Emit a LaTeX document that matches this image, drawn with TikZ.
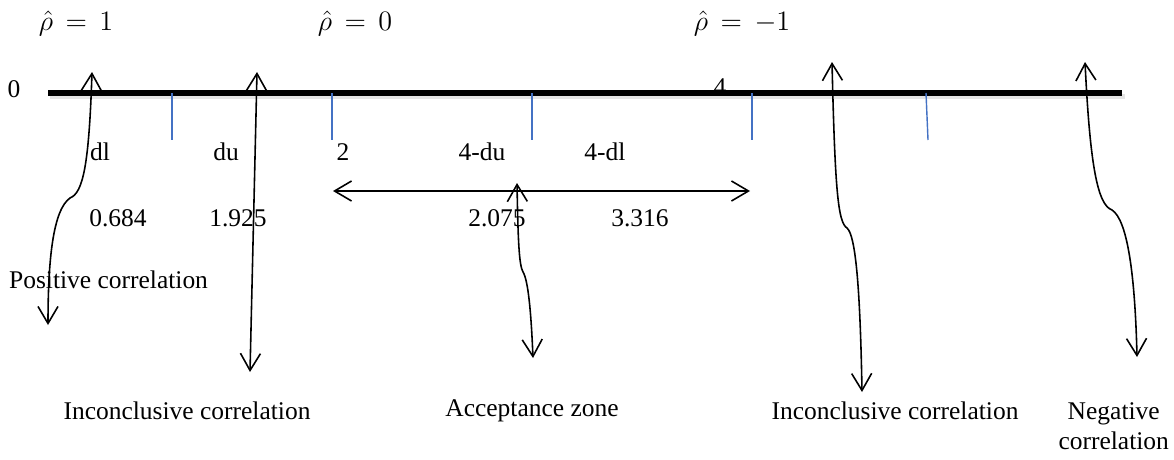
\RequirePackage{fix-cm}
\documentclass[tikz,border=0pt]{standalone}
\usepackage{fontspec}
\setmainfont{Liberation Serif}
\usepackage{tikz}
\usetikzlibrary{positioning, arrows.meta}
\definecolor{tickBlue}{RGB}{68, 114, 196}

\begin{document}
\begin{tikzpicture}[
    lbl/.style={inner sep=1pt, font=\fontsize{14.5}{17}\selectfont},
    rho/.style={inner sep=1pt, font=\fontsize{16}{19}\selectfont},
    tickline/.style={tickBlue, line width=0.8pt},
    arrow/.style={{Straight Barb[length=3.4mm, width=4mm]}-{Straight Barb[length=3.4mm, width=4mm]}, line width=0.9pt},
  ]
    \useasboundingbox (0,0) rectangle (23.48,-9.18);

    % number line
    \node[lbl] (four) at (14.40,-1.74) {4};
    \coordinate (axL) at (0.96,-1.86);
    \coordinate (axR) at (22.44,-1.86);
    \draw[black!10, line width=3pt] ([xshift=1pt, yshift=-2pt]axL) -- ([xshift=1.5pt, yshift=-2pt]axR);
    \draw[line width=3.4pt] (axL) -- (axR);
    \node[lbl] (zero) at (0.28,-1.78) {0};

    \foreach \x/\n in {3.44/t1, 6.64/t2, 10.64/t3, 15.04/t4, 18.52/t5} {
      \coordinate (\n a) at (\x,-1.86);
      \coordinate (\n b) at (\x,-2.80);
    }
    \coordinate (t5b) at (18.56,-2.80);
    \foreach \n in {t1, t2, t3, t4, t5}
      \draw[tickline] (\n a) -- (\n b);

    \node[rho] (rhoA) at (1.52,-0.46) {$\hat{\rho}\,=\,1$};
    \node[rho] (rhoB) at (7.10,-0.46) {$\hat{\rho}\,=\,0$};
    \node[rho] (rhoC) at (14.84,-0.46) {$\hat{\rho}\,=\,-1$};

    \node[lbl] (dl) at (2.00,-3.04) {dl};
    \node[lbl] (du) at (4.52,-3.04) {du};
    \node[lbl] (two) at (6.86,-3.04) {2};
    \node[lbl] (fourdu) at (9.64,-3.04) {4-du};
    \node[lbl] (fourdl) at (12.10,-3.04) {4-dl};

    \node[lbl] (vdl) at (2.36,-4.36) {0.684};
    \node[lbl] (vdu) at (4.76,-4.36) {1.925};
    \node[lbl] (vfourdu) at (9.94,-4.36) {2.075};
    \node[lbl] (vfourdl) at (12.80,-4.36) {3.316};

    \node[lbl, anchor=west] (pos) at (0.14,-5.60) {Positive correlation};

    \node[lbl] (incL) at (3.74,-8.22) {Inconclusive correlation};
    \node[lbl] (acc) at (10.64,-8.22) {Acceptance zone};
    \node[lbl] (incR) at (17.90,-8.22) {Inconclusive correlation};
    \node[lbl, align=center, anchor=east] (neg) at (23.42,-8.52) {Negative\\correlation};

    % acceptance range
    \coordinate (accL) at (6.66,-3.82);
    \coordinate (accR) at (15.00,-3.82);
    \draw[arrow] (accL) -- (accR);

    % curly pointers
    \coordinate (p1t) at (1.84,-1.44);
    \coordinate (p1k) at (1.40,-3.96);
    \coordinate (p1b) at (0.96,-6.50);
    \coordinate (p2t) at (5.14,-1.44);
    \coordinate (p2b) at (5.00,-7.44);
    \coordinate (p3t) at (10.34,-3.66);
    \coordinate (p3k) at (10.46,-5.44);
    \coordinate (p3b) at (10.66,-7.16);
    \coordinate (p4t) at (16.64,-1.24);
    \coordinate (p4k) at (16.94,-4.56);
    \coordinate (p4b) at (17.24,-7.84);
    \coordinate (p5t) at (21.70,-1.24);
    \coordinate (p5k) at (22.24,-4.20);
    \coordinate (p5b) at (22.74,-7.14);

    \draw[arrow] (p1t) .. controls (1.78,-3.3) and (1.66,-3.86) .. (p1k)
                       .. controls (1.06,-4.2) and (0.96,-5.2) .. (p1b);
    \draw[arrow] (p2t) -- (p2b);
    \draw[arrow] (p3t) .. controls (10.36,-4.8) and (10.38,-5.3) .. (p3k)
                       .. controls (10.56,-5.6) and (10.62,-6.2) .. (p3b);
    \draw[arrow] (p4t) .. controls (16.70,-3.8) and (16.76,-4.45) .. (p4k)
                       .. controls (17.10,-4.7) and (17.20,-5.6) .. (p4b);
    \draw[arrow] (p5t) .. controls (21.80,-3.3) and (21.95,-4.1) .. (p5k)
                       .. controls (22.55,-4.4) and (22.70,-5.5) .. (p5b);
  \end{tikzpicture}
\end{document}
